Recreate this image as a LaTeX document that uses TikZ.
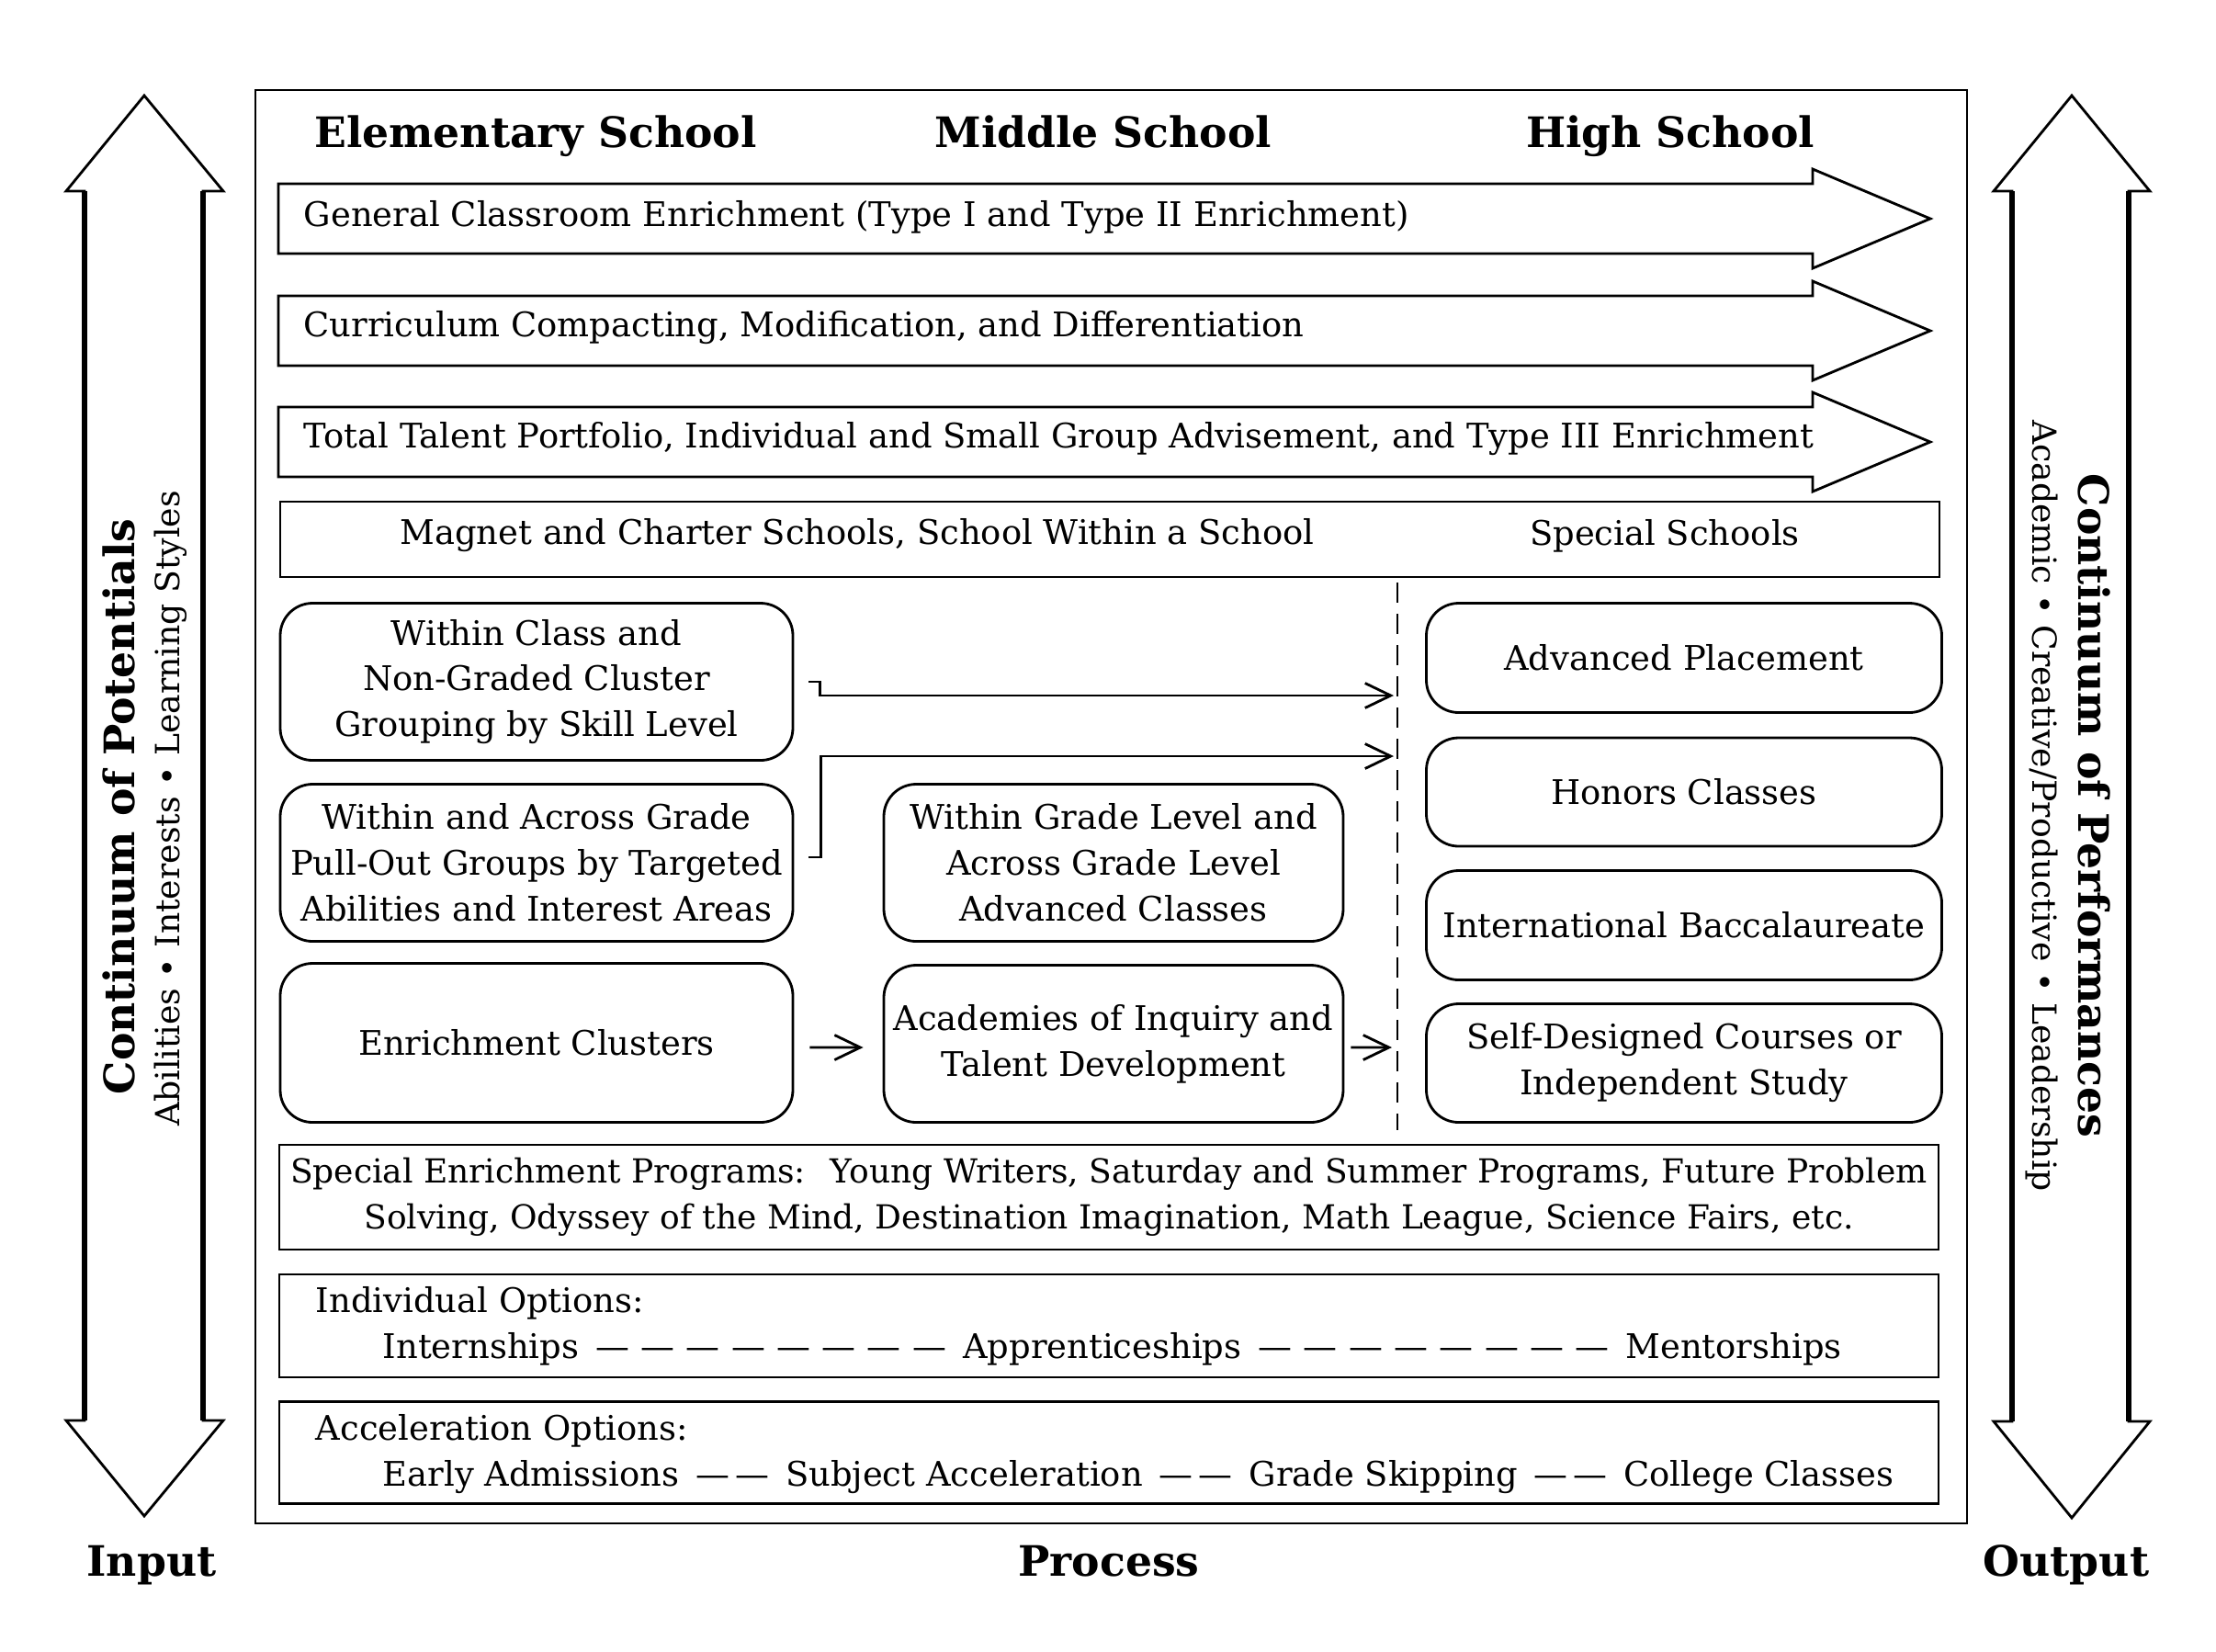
\documentclass[tikz,border=0pt]{standalone}
\usepackage{fontspec}
\setmainfont{DejaVu Serif}
\usetikzlibrary{arrows.meta}

\newcommand{\boxfont}{\fontsize{10.5}{14.2}\selectfont}
\newcommand{\programfont}{\fontsize{10.25}{14.2}\selectfont}
\newcommand{\headfont}{\fontsize{13}{15}\selectfont\bfseries}
\newcommand{\sidefont}{\fontsize{13}{15}\selectfont\bfseries}
\newcommand{\subfont}{\fontsize{10.3}{12}\selectfont}
\newcommand{\dashfill}{\xleaders\hbox{\,—\,}\hfill}

\tikzset{
  rbox/.style={draw, thick, rounded corners=10pt, align=center, inner sep=1pt},
  plainbox/.style={draw, thick, inner sep=0pt},
  band/.style={draw, thick, line join=miter},
  bandtext/.style={anchor=west, inner sep=0pt},
  heading/.style={font=\headfont, anchor=base},
  bigarrow/.style={draw, thick, line join=miter},
  shaft/.style={line width=1.5pt},
  sidetitle/.style={font=\sidefont},
  sidesub/.style={font=\subfont},
  conn/.style={thick, -{Straight Barb[length=0.28cm, width=0.27cm]}},
  divider/.style={thick, dash pattern=on 0.22cm off 0.12cm}
}

\begin{document}
\begin{tikzpicture}[x=1cm, y=-1cm, font=\boxfont]
  \useasboundingbox (0,0) rectangle (24.12,17.97);

  % --- input side ---
  \draw[bigarrow] (1.57,1.04) -- (2.43,2.08) -- (2.21,2.08) -- (2.21,15.46) -- (2.43,15.46)
    -- (1.57,16.50) -- (0.72,15.46) -- (0.92,15.46) -- (0.92,2.08) -- (0.72,2.08) -- cycle;
  \draw[shaft] (0.92,2.08) -- (0.92,15.46) (2.21,2.08) -- (2.21,15.46);
  \node[sidetitle, rotate=90] (potentials) at (1.29,8.78) {Continuum of Potentials};
  \node[sidesub, rotate=90] (abilities) at (1.86,8.80) {Abilities • Interests • Learning Styles};
  \node[heading] (input) at (1.65,17.15) {Input};

  % --- output side ---
  \draw[bigarrow] (22.55,1.04) -- (23.40,2.08) -- (23.17,2.08) -- (23.17,15.47) -- (23.40,15.47)
    -- (22.55,16.52) -- (21.70,15.47) -- (21.90,15.47) -- (21.90,2.08) -- (21.70,2.08) -- cycle;
  \draw[shaft] (21.90,2.08) -- (21.90,15.47) (23.17,2.08) -- (23.17,15.47);
  \node[sidetitle, rotate=-90] (performances) at (22.80,8.77) {Continuum of Performances};
  \node[sidesub, rotate=-90] (academic) at (22.22,8.77) {Academic • Creative/Productive • Leadership};
  \node[heading] (output) at (22.49,17.15) {Output};

  % --- process frame ---
  \draw[thick] (2.78,0.98) rectangle (21.41,16.58);
  \node[heading] (process) at (12.07,17.15) {Process};
  \node[heading] (elementary) at (5.83,1.60) {Elementary School};
  \node[heading] (middle) at (12.01,1.60) {Middle School};
  \node[heading] (high) at (18.18,1.60) {High School};

  % bands across all levels
  \draw[band] (3.03,2.00) -- (19.73,2.00) -- (19.73,1.84) -- (21.01,2.38) -- (19.73,2.92)
    -- (19.73,2.76) -- (3.03,2.76) -- cycle;
  \node[bandtext] (general) at (3.30,2.37) {General Classroom Enrichment (Type I and Type II Enrichment)};
  \draw[band] (3.03,3.22) -- (19.73,3.22) -- (19.73,3.06) -- (21.01,3.60) -- (19.73,4.14)
    -- (19.73,3.98) -- (3.03,3.98) -- cycle;
  \node[bandtext] (compacting) at (3.30,3.57) {Curriculum Compacting, Modification, and Differentiation};
  \draw[band] (3.03,4.43) -- (19.73,4.43) -- (19.73,4.27) -- (21.01,4.81) -- (19.73,5.35)
    -- (19.73,5.19) -- (3.03,5.19) -- cycle;
  \node[bandtext] (portfolio) at (3.30,4.78) {Total Talent Portfolio, Individual and Small Group Advisement, and Type III Enrichment};

  \node[plainbox, minimum width=18.06cm, minimum height=0.82cm] (schools) at (12.08,5.87) {};
  \node (magnet) at (9.33,5.83) {Magnet and Charter Schools, School Within a School};
  \node (special) at (18.12,5.83) {Special Schools};

  % grouping boxes
  \node[rbox, minimum width=5.58cm, minimum height=1.71cm] (cluster) at (5.84,7.42) {Within Class and\\Non-Graded Cluster\\Grouping by Skill Level};
  \node[rbox, minimum width=5.58cm, minimum height=1.71cm] (pullout) at (5.84,9.39) {Within and Across Grade\\Pull-Out Groups by Targeted\\Abilities and Interest Areas};
  \node[rbox, minimum width=5.58cm, minimum height=1.73cm] (clusters) at (5.84,11.35) {Enrichment Clusters};
  \node[rbox, minimum width=5.00cm, minimum height=1.71cm] (advclasses) at (12.12,9.39) {Within Grade Level and\\Across Grade Level\\Advanced Classes};
  \node[rbox, minimum width=5.00cm, minimum height=1.71cm] (academies) at (12.12,11.36) {Academies of Inquiry and\\Talent Development};
  \node[rbox, minimum width=5.61cm, minimum height=1.19cm] (ap) at (18.33,7.16) {Advanced Placement};
  \node[rbox, minimum width=5.61cm, minimum height=1.18cm] (honors) at (18.33,8.62) {Honors Classes};
  \node[rbox, minimum width=5.61cm, minimum height=1.19cm] (ib) at (18.33,10.07) {International Baccalaureate};
  \node[rbox, minimum width=5.61cm, minimum height=1.29cm] (selfdesigned) at (18.33,11.57) {Self-Designed Courses or\\Independent Study};

  % high school divider and links
  \coordinate (divtop) at (15.21,6.34);
  \coordinate (divbot) at (15.21,12.30);
  \draw[divider] (divtop) -- (divbot);
  \coordinate (aptip) at (15.17,7.57);
  \coordinate (hontip) at (15.17,8.23);
  \coordinate (seltip) at (15.15,11.40);
  \draw[conn] ([xshift=0.16cm]cluster.east) -- ++(0.12,0) |- (aptip);
  \draw[conn] ([xshift=0.16cm, yshift=0.06cm]pullout.east) -- ++(0.13,0) |- (hontip);
  \draw[conn] ([xshift=0.17cm, yshift=-0.05cm]clusters.east) -- ([xshift=-0.21cm, yshift=-0.04cm]academies.west);
  \draw[conn] ([xshift=0.07cm, yshift=-0.04cm]academies.east) -- (seltip);

  % options along the bottom
  \node[plainbox, minimum width=18.06cm, minimum height=1.14cm] (programs) at (12.07,13.03) {};
  \node[align=center, font=\programfont, inner sep=0pt] (programtext) at (12.07,13.03) {Special Enrichment Programs:~ Young Writers, Saturday and Summer Programs, Future Problem\\Solving, Odyssey of the Mind, Destination Imagination, Math League, Science Fairs, etc.};
  \node[plainbox, minimum width=18.06cm, minimum height=1.12cm] (individual) at (12.07,14.43) {};
  \node[anchor=west, inner sep=0pt] (indhead) at (3.43,14.18) {Individual Options:};
  \node[anchor=west, inner sep=0pt] (indline) at (4.16,14.68) {\hbox to 15.88cm{Internships \dashfill{} Apprenticeships \dashfill{} Mentorships}};
  \node[plainbox, minimum width=18.06cm, minimum height=1.11cm] (acceleration) at (12.07,15.81) {};
  \node[anchor=west, inner sep=0pt] (acchead) at (3.43,15.57) {Acceleration Options:};
  \node[anchor=west, inner sep=0pt] (accline) at (4.16,16.08) {Early Admissions \,—\,—\, Subject Acceleration \,—\,—\, Grade Skipping \,—\,—\, College Classes};
\end{tikzpicture}
\end{document}
